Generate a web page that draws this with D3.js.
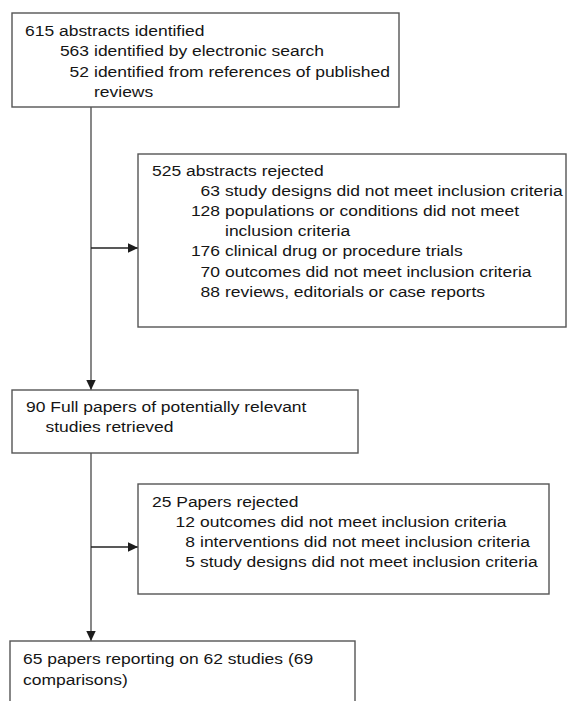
<!DOCTYPE html>
<html>
<head>
<meta charset="utf-8">
<script src="https://cdn.jsdelivr.net/npm/d3@7"></script>
<style>
body{margin:0;background:#fff;}
svg text{font-family:"Liberation Sans",Arial,Helvetica,sans-serif;font-size:15px;fill:#151515;}
</style>
</head>
<body>
<svg id="chart" width="567" height="701"></svg>
<script>
// flow stages (main column + rejected side boxes)
var stageCounts = [615, 525, 90, 25, 65];
var stageLabels = [
	"abstracts identified",
	"abstracts rejected",
	"Full papers of potentially relevant\nstudies retrieved",
	"Papers rejected",
	"papers reporting on 62 studies (69\ncomparisons)"
];

var identifiedCounts = [563, 52];
var identifiedLabels = [
	"identified by electronic search",
	"identified from references of published\nreviews"
];

var abstractRejCounts = [63, 128, 176, 70, 88];
var abstractRejLabels = [
	"study designs did not meet inclusion criteria",
	"populations or conditions did not meet\ninclusion criteria",
	"clinical drug or procedure trials",
	"outcomes did not meet inclusion criteria",
	"reviews, editorials or case reports"
];

var paperRejCounts = [12, 8, 5];
var paperRejLabels = [
	"outcomes did not meet inclusion criteria",
	"interventions did not meet inclusion criteria",
	"study designs did not meet inclusion criteria"
];

var svg = d3.select('#chart');
var sx = 1.165; // glyphs in the figure are a bit wide

// box frames
var boxes = [
	{x:12,  y:13,  w:387, h:94,  tx:25,  ty:36,  lh:20.3, numEnd:89,  hang:true,  subs:[identifiedCounts, identifiedLabels]},
	{x:138, y:154, w:428, h:173, tx:152, ty:176, lh:20.1, numEnd:220, hang:true,  subs:[abstractRejCounts, abstractRejLabels]},
	{x:12,  y:390, w:346, h:63,  tx:26,  ty:412, lh:20.4, numEnd:0,   hang:true,  subs:null},
	{x:138, y:484, w:411, h:110, tx:152, ty:506.5, lh:20.1, numEnd:195, hang:true,  subs:[paperRejCounts, paperRejLabels]},
	{x:10,  y:641, w:345, h:90,  tx:23,  ty:664, lh:20.5, numEnd:0,   hang:false, subs:null}
];

var tmp = svg.append("text").attr("x", -500).attr("y", -500);
var measure = function(s){ tmp.text(s); return tmp.node().getComputedTextLength() * sx; };

var defs = svg.append("defs");
defs.append("marker")
	.attr("id", "arr")
	.attr("viewBox", "0 0 10 10")
	.attr("refX", 10).attr("refY", 5)
	.attr("markerWidth", 10).attr("markerHeight", 10)
	.attr("markerUnits", "userSpaceOnUse")
	.attr("orient", "auto")
	.append("path")
	.attr("d", "M0,0.3L10,5L0,9.7Z")
	.attr("fill", "#1c1c1c");

// connectors
var spineX = 91;
var links = [
	[spineX, boxes[0].y + boxes[0].h, spineX, boxes[2].y],
	[spineX, boxes[2].y + boxes[2].h, spineX, boxes[4].y],
	[spineX, 248, boxes[1].x, 248],
	[spineX, 547, boxes[3].x, 547]
];
svg.selectAll("line.link")
	.data(links)
	.enter()
	.append("line")
	.attr("class", "link")
	.attr("x1", function(d){return d[0];})
	.attr("y1", function(d){return d[1];})
	.attr("x2", function(d){return d[2];})
	.attr("y2", function(d){return d[3];})
	.attr("stroke", function(d,i){return i < 2 ? "#555" : "#222";})
	.attr("stroke-width", 1.4)
	.attr("marker-end", "url(#arr)");

svg.selectAll("rect.box")
	.data(boxes)
	.enter()
	.append("rect")
	.attr("class", "box")
	.attr("x", function(d){return d.x;})
	.attr("y", function(d){return d.y;})
	.attr("width", function(d){return d.w;})
	.attr("height", function(d){return d.h;})
	.attr("fill", "#fff")
	.attr("stroke", "#555")
	.attr("stroke-width", 1.4);

var put = function(x, y, s, anchor){
	svg.append("text")
		.attr("transform", "translate(" + x + "," + y + ") scale(" + sx + ",1)")
		.attr("text-anchor", anchor || "start")
		.text(s);
};

boxes.forEach(function(b, k){
	var y = d3.scaleLinear().domain([0, 1]).range([b.ty, b.ty + b.lh]);
	var row = 0;
	var head = stageLabels[k].split("\n");
	var first = stageCounts[k] + " " + head[0];
	put(b.tx, y(row++), first);
	var indent = b.hang ? b.tx + measure(stageCounts[k] + " ") : b.tx;
	for (var j = 1; j < head.length; j++) put(indent, y(row++), head[j]);
	if (b.subs){
		var labX = b.numEnd + 5;
		b.subs[0].forEach(function(n, i){
			var parts = b.subs[1][i].split("\n");
			put(b.numEnd, y(row), String(n), "end");
			parts.forEach(function(p){ put(labX, y(row++), p); });
		});
	}
});
tmp.remove();
</script>
</body>
</html>
